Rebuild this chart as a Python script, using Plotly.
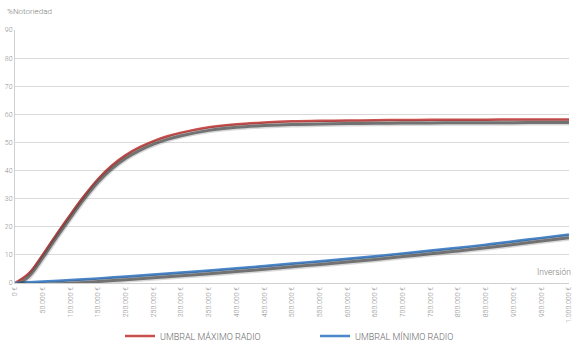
import plotly.graph_objects as go

# Marcas del eje X (inversión en euros)
x_ticks = [0, 50000, 100000, 150000, 200000, 250000, 300000, 350000, 400000,
           450000, 500000, 550000, 600000, 650000, 700000, 750000, 800000,
           850000, 900000, 950000, 1000000]

tick_labels = ["0 €", "50.000 €", "100.000 €", "150.000 €", "200.000 €", "250.000 €",
               "300.000 €", "350.000 €", "400.000 €", "450.000 €", "500.000 €",
               "550.000 €", "600.000 €", "650.000 €", "700.000 €", "750.000 €",
               "800.000 €", "850.000 €", "900.000 €", "950.000 €", "1.000.000 €"]

# Umbral máximo: inversión y % de notoriedad
inversion_max = [0, 25000, 50000, 75000, 100000, 125000, 150000, 175000, 200000,
                 225000, 250000, 275000, 300000, 350000, 400000, 450000, 500000,
                 550000, 600000, 650000, 700000, 750000, 800000, 850000, 900000,
                 950000, 1000000]
umbral_maximo = [0, 3.4, 10.0, 17.3, 24.3, 31.0, 37.0, 41.8, 45.5,
                 48.3, 50.5, 52.2, 53.5, 55.4, 56.5, 57.1, 57.5,
                 57.7, 57.8, 57.9, 58.0, 58.05, 58.1, 58.1, 58.15,
                 58.2, 58.2]

# Umbral mínimo: inversión y % de notoriedad
inversion_min = [0, 50000, 100000, 150000, 200000, 250000, 300000, 350000, 400000,
                 450000, 500000, 550000, 600000, 650000, 700000, 750000, 800000,
                 850000, 900000, 950000, 1000000]
umbral_minimo = [0, 0.5, 1.0, 1.6, 2.3, 3.0, 3.7, 4.4, 5.2, 6.0, 6.9,
                 7.7, 8.6, 9.5, 10.5, 11.5, 12.5, 13.6, 14.8, 16.0, 17.2]

y_ticks = [0, 10, 20, 30, 40, 50, 60, 70, 80, 90]

RED = "#C9504E"
BLUE = "#4A86C8"
TEXT = "#8c8c8c"
FONT = "Roboto"

W, H = 574, 344
L, R, T, B = 15, 5, 30, 61
PW, PH = W - L - R, H - T - B


def px_x(px):
    return (px - L) / PW


def px_y(py):
    return (H - B - py) / PH


fig = go.Figure()

# Sombra difusa bajo cada línea (eje Y auxiliar desplazado unos píxeles)
for xs, serie in ((inversion_max, umbral_maximo), (inversion_min, umbral_minimo)):
    fig.add_trace(go.Scatter(x=xs, y=serie, yaxis="y2", mode="lines",
                             line=dict(color="rgba(0,0,0,0.15)", width=6, shape="spline"),
                             hoverinfo="skip", showlegend=False))
    fig.add_trace(go.Scatter(x=xs, y=serie, yaxis="y2", mode="lines",
                             line=dict(color="rgba(70,70,70,0.7)", width=3, shape="spline"),
                             hoverinfo="skip", showlegend=False))

fig.add_trace(go.Scatter(x=inversion_max, y=umbral_maximo, mode="lines",
                         name="UMBRAL MÁXIMO RADIO",
                         line=dict(color=RED, width=2.5, shape="spline")))
fig.add_trace(go.Scatter(x=inversion_min, y=umbral_minimo, mode="lines",
                         name="UMBRAL MÍNIMO RADIO",
                         line=dict(color=BLUE, width=2.7, shape="spline")))

fig.update_layout(
    width=W, height=H,
    margin=dict(l=L, r=R, t=T, b=B, autoexpand=False),
    paper_bgcolor="white", plot_bgcolor="white",
    font=dict(family=FONT, color=TEXT, size=7, weight=300),
    xaxis=dict(range=[0, 1000000], tickvals=x_ticks, ticktext=tick_labels,
               tickangle=-90, tickfont=dict(size=7, color=TEXT, weight=300),
               showgrid=False, zeroline=False, showline=True, automargin=False,
               linecolor="#d0d0d0", linewidth=1, ticks=""),
    yaxis=dict(range=[0, 90], tickvals=y_ticks,
               tickfont=dict(size=7, color=TEXT, weight=300),
               showgrid=True, gridcolor="#dadada", gridwidth=1, automargin=False,
               zeroline=False, showline=True, linecolor="#d0d0d0", ticks=""),
    yaxis2=dict(range=[1.1, 91.1], overlaying="y", visible=False),
    legend=dict(orientation="h", x=120 / W, xref="container", xanchor="left",
                y=px_y(336), yref="paper", yanchor="middle",
                font=dict(size=9, color="#6a6a6a", weight=300),
                entrywidthmode="pixels", entrywidth=150),
    showlegend=True,
    annotations=[
        dict(text="%Notoriedad", xref="paper", yref="paper",
             x=px_x(5), y=px_y(12), xanchor="left", yanchor="middle",
             showarrow=False, font=dict(size=8, color="#7a7a7a", weight=300)),
        dict(text="Inversión", xref="paper", yref="paper",
             x=px_x(573), y=px_y(272), xanchor="right", yanchor="middle",
             showarrow=False, font=dict(size=8.5, color="#7a7a7a", weight=300)),
    ],
)

fig.write_html("out.html")
